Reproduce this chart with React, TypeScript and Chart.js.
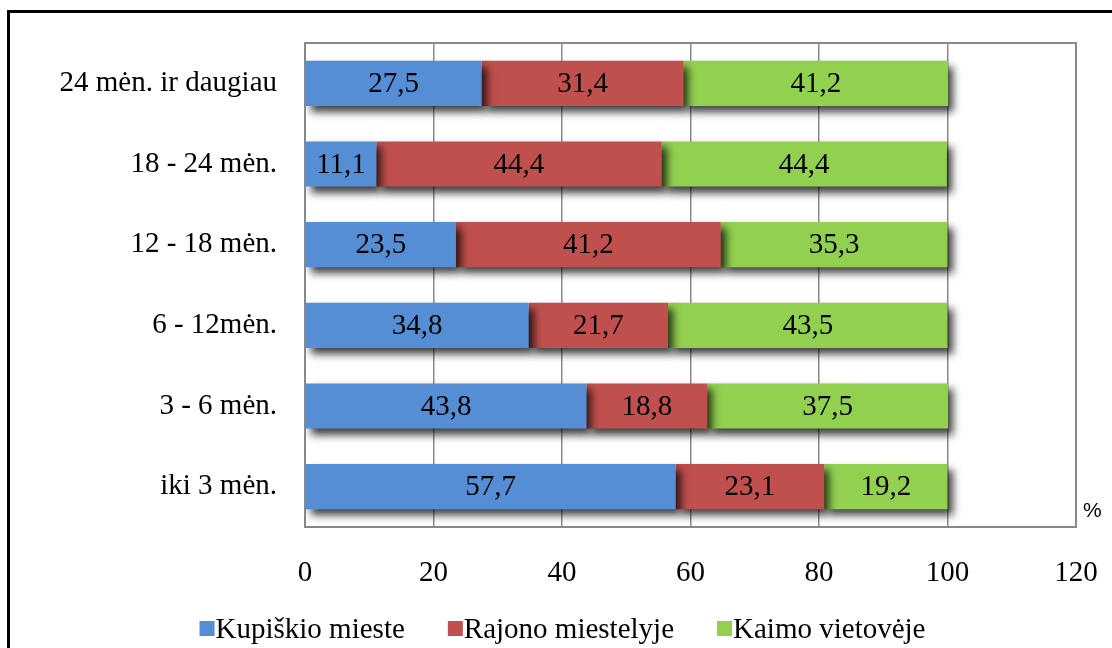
import React, { useEffect, useRef } from "react";
import { Chart, registerables } from "chart.js";

Chart.register(...registerables);

const categories = [
  "24 mėn. ir daugiau",
  "18 - 24 mėn.",
  "12 - 18 mėn.",
  "6 - 12mėn.",
  "3 - 6 mėn.",
  "iki 3 mėn.",
];
const seriesNames = ["Kupiškio mieste", "Rajono miestelyje", "Kaimo vietovėje"];
const kupiskio = [27.5, 11.1, 23.5, 34.8, 43.8, 57.7];
const rajono = [31.4, 44.4, 41.2, 21.7, 18.8, 23.1];
const kaimo = [41.2, 44.4, 35.3, 43.5, 37.5, 19.2];
const xTicks = [0, 20, 40, 60, 80, 100, 120];
const colors = ["#558ED5", "#C0504D", "#92D050"];

const SERIF = "'Liberation Serif', 'Times New Roman', serif";
const FS = 29;

export default function App() {
  const ref = useRef<HTMLCanvasElement | null>(null);
  useEffect(() => {
    if (!ref.current) return;
    const shadowPlugin = {
      id: "shadow",
      beforeDatasetsDraw(chart: any) {
        const ctx = chart.ctx;
        ctx.save();
        ctx.shadowColor = "rgba(0,0,0,0.75)";
        ctx.shadowBlur = 8;
        ctx.shadowOffsetX = 5;
        ctx.shadowOffsetY = 6;
      },
      afterDatasetsDraw(chart: any) {
        chart.ctx.restore();
      },
    };
    const labelsPlugin = {
      id: "labels",
      afterDraw(chart: any) {
        const ctx = chart.ctx;
        ctx.save();
        const ca = chart.chartArea;
        ctx.strokeStyle = "#888";
        ctx.lineWidth = 2;
        ctx.strokeRect(ca.left, ca.top, ca.right - ca.left, ca.bottom - ca.top);
        ctx.font = FS + "px " + SERIF;
        ctx.fillStyle = "#000";
        ctx.textAlign = "center";
        ctx.textBaseline = "middle";
        chart.data.datasets.forEach((ds: any, di: number) => {
          const meta = chart.getDatasetMeta(di);
          meta.data.forEach((bar: any, i: number) => {
            const v = ds.data[i];
            const cx = (bar.x + bar.base) / 2;
            ctx.fillText(v.toFixed(1).replace(".", ","), cx, bar.y + 1);
          });
        });
        // legend
        const box = 15;
        const gap = 42;
        const widths = chart.data.datasets.map(
          (ds: any) => box + 2 + ctx.measureText(ds.label).width
        );
        const total = widths.reduce((a: number, b: number) => a + b, 0) + gap * (widths.length - 1);
        let x = 563 - total / 2;
        const ly = 630;
        ctx.textAlign = "left";
        chart.data.datasets.forEach((ds: any, i: number) => {
          ctx.fillStyle = ds.backgroundColor;
          ctx.fillRect(x, ly - 9, box, box);
          ctx.fillStyle = "#000";
          ctx.fillText(ds.label, x + box + 1, ly);
          x += widths[i] + gap;
        });
        ctx.font = "21px 'Liberation Sans', Arial, sans-serif";
        ctx.fillText("%", ca.right + 7, ca.bottom - 16);
        ctx.restore();
      },
    };
    const chart = new Chart(ref.current, {
      type: "bar",
      data: {
        labels: categories,
        datasets: [kupiskio, rajono, kaimo].map((d, i) => ({
          label: seriesNames[i],
          data: d,
          backgroundColor: colors[i],
          borderWidth: 0,
          categoryPercentage: 0.56,
          barPercentage: 1,
        })),
      },
      options: {
        indexAxis: "y",
        responsive: false,
        animation: false,
        layout: { padding: { top: 43, right: 36, left: 0, bottom: 41 } },
        scales: {
          x: {
            stacked: true,
            min: 0,
            max: 120,
            afterBuildTicks(axis: any) {
              axis.ticks = xTicks.map((v) => ({ value: v }));
            },
            afterFit(axis: any) {
              axis.height = 80;
              axis.paddingRight = 0;
              axis.paddingLeft = 0;
            },
            ticks: {
              font: { size: FS, family: SERIF },
              color: "#000",
              padding: 29,
            },
            grid: { color: "#8a8a8a", lineWidth: 1.5, drawTicks: false },
            border: { display: true, color: "#888", width: 2 },
          },
          y: {
            stacked: true,
            afterFit(axis: any) {
              axis.width = 305;
              axis.paddingTop = 0;
              axis.paddingBottom = 0;
            },
            ticks: {
              font: { size: FS, family: SERIF },
              color: "#000",
              padding: 28,
            },
            grid: { display: false, drawTicks: false },
            border: { display: true, color: "#888", width: 2 },
          },
        },
        plugins: {
          legend: { display: false },
          tooltip: { enabled: false },
        },
      },
      plugins: [shadowPlugin, labelsPlugin],
    } as any);
    return () => chart.destroy();
  }, []);
  return (
    <div
      style={{
        position: "absolute",
        left: 0,
        top: 0,
        width: 1112,
        height: 648,
        overflow: "hidden",
        background: "#fff",
      }}
    >
      <div
        style={{
          position: "absolute",
          left: 7,
          top: 10,
          width: 2000,
          height: 2000,
          borderLeft: "3px solid #000",
          borderTop: "3px solid #000",
        }}
      />
      <canvas
        ref={ref}
        width={1112}
        height={648}
        style={{ position: "absolute", left: 0, top: 0, width: 1112, height: 648 }}
      />
    </div>
  );
}
